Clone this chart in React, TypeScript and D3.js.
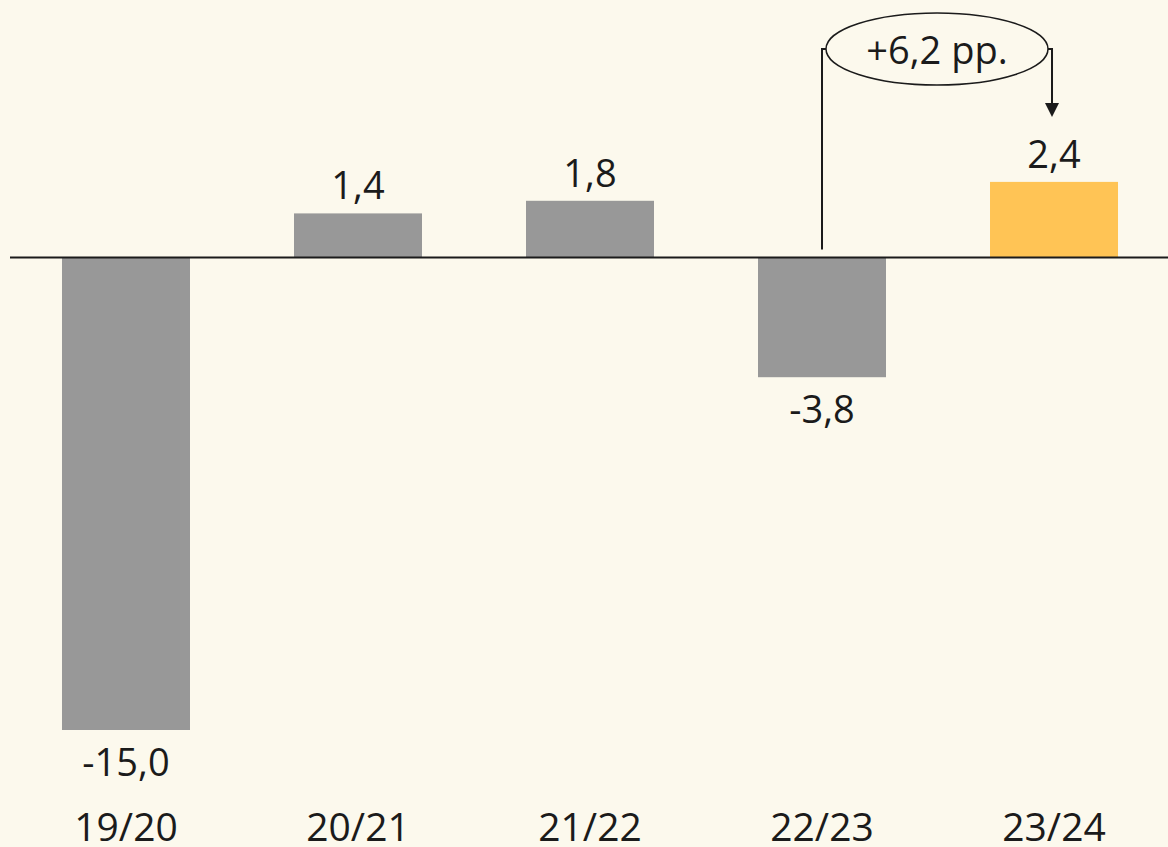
import React, { useEffect, useRef } from "react";
import * as d3 from "d3";

const categories = ["19/20", "20/21", "21/22", "22/23", "23/24"];
const values = [-15.0, 1.4, 1.8, -3.8, 2.4];
const valueLabels = ["-15,0", "1,4", "1,8", "-3,8", "2,4"];
const highlight = [false, false, false, false, true];
const annotationText = "+6,2 pp.";

const W = 1168;
const H = 847;

export default function App() {
  const ref = useRef<SVGSVGElement>(null);

  useEffect(() => {
    const svg = d3.select(ref.current);
    svg.selectAll("*").remove();

    const font = "'Open Sans', sans-serif";
    const ink = "#1b1b1b";

    svg.append("rect").attr("width", W).attr("height", H).attr("fill", "#fcf9ed");

    const x = d3
      .scaleBand<string>()
      .domain(categories)
      .range([10, 1170])
      .paddingInner(0.4483)
      .paddingOuter(0.2241);

    const y = d3.scaleLinear().domain([-15, 0]).range([730, 257.5]);

    const data = categories.map((c, i) => ({
      cat: c,
      v: values[i],
      label: valueLabels[i],
      hi: highlight[i],
    }));

    svg
      .selectAll("rect.bar")
      .data(data)
      .join("rect")
      .attr("class", "bar")
      .attr("x", (d) => x(d.cat)!)
      .attr("width", x.bandwidth())
      .attr("y", (d) => y(Math.max(0, d.v)))
      .attr("height", (d) => Math.abs(y(d.v) - y(0)))
      .attr("fill", (d) => (d.hi ? "#ffc455" : "#989898"));

    // zero line
    svg
      .append("line")
      .attr("x1", 10)
      .attr("x2", W)
      .attr("y1", y(0))
      .attr("y2", y(0))
      .attr("stroke", ink)
      .attr("stroke-width", 2);

    svg
      .selectAll("text.val")
      .data(data)
      .join("text")
      .attr("class", "val")
      .attr("x", (d) => x(d.cat)! + x.bandwidth() / 2)
      .attr("y", (d) => (d.v >= 0 ? y(d.v) - 14 : y(d.v) + 46))
      .attr("text-anchor", "middle")
      .style("font-family", font)
      .style("font-size", "38px")
      .attr("fill", ink)
      .text((d) => d.label);

    svg
      .selectAll("text.cat")
      .data(categories)
      .join("text")
      .attr("class", "cat")
      .attr("x", (d) => x(d)! + x.bandwidth() / 2)
      .attr("y", 841)
      .attr("text-anchor", "middle")
      .style("font-family", font)
      .style("font-size", "39px")
      .attr("fill", ink)
      .text((d) => d);

    // annotation bracket
    const xa = x(categories[3])! + x.bandwidth() / 2;
    const xb = x(categories[4])! + x.bandwidth() / 2 - 2;
    const cy = 49;
    const cx = (xa + xb) / 2 + 0;
    const rx = (xb - xa) / 2 - 4;

    svg
      .append("path")
      .attr("d", `M${xa},${y(0) - 8} V${cy} H${cx - rx}`)
      .attr("fill", "none")
      .attr("stroke", ink)
      .attr("stroke-width", 2);

    const tipY = y(values[4]) - 65;
    svg
      .append("path")
      .attr("d", `M${cx + rx},${cy} H${xb} V${tipY - 12}`)
      .attr("fill", "none")
      .attr("stroke", ink)
      .attr("stroke-width", 2);
    svg
      .append("path")
      .attr("d", `M${xb - 7},${tipY - 14} L${xb + 7},${tipY - 14} L${xb},${tipY} Z`)
      .attr("fill", ink);

    svg
      .append("ellipse")
      .attr("cx", cx)
      .attr("cy", cy)
      .attr("rx", rx)
      .attr("ry", 36)
      .attr("fill", "#fcf9ed")
      .attr("stroke", ink)
      .attr("stroke-width", 1.5);

    svg
      .append("text")
      .attr("x", cx)
      .attr("y", cy + 15)
      .attr("text-anchor", "middle")
      .style("font-family", font)
      .style("font-size", "38px")
      .attr("fill", ink)
      .text(annotationText);
  }, []);

  return (
    <svg
      ref={ref}
      width={W}
      height={H}
      style={{ position: "fixed", left: 0, top: 0, display: "block" }}
    />
  );
}
